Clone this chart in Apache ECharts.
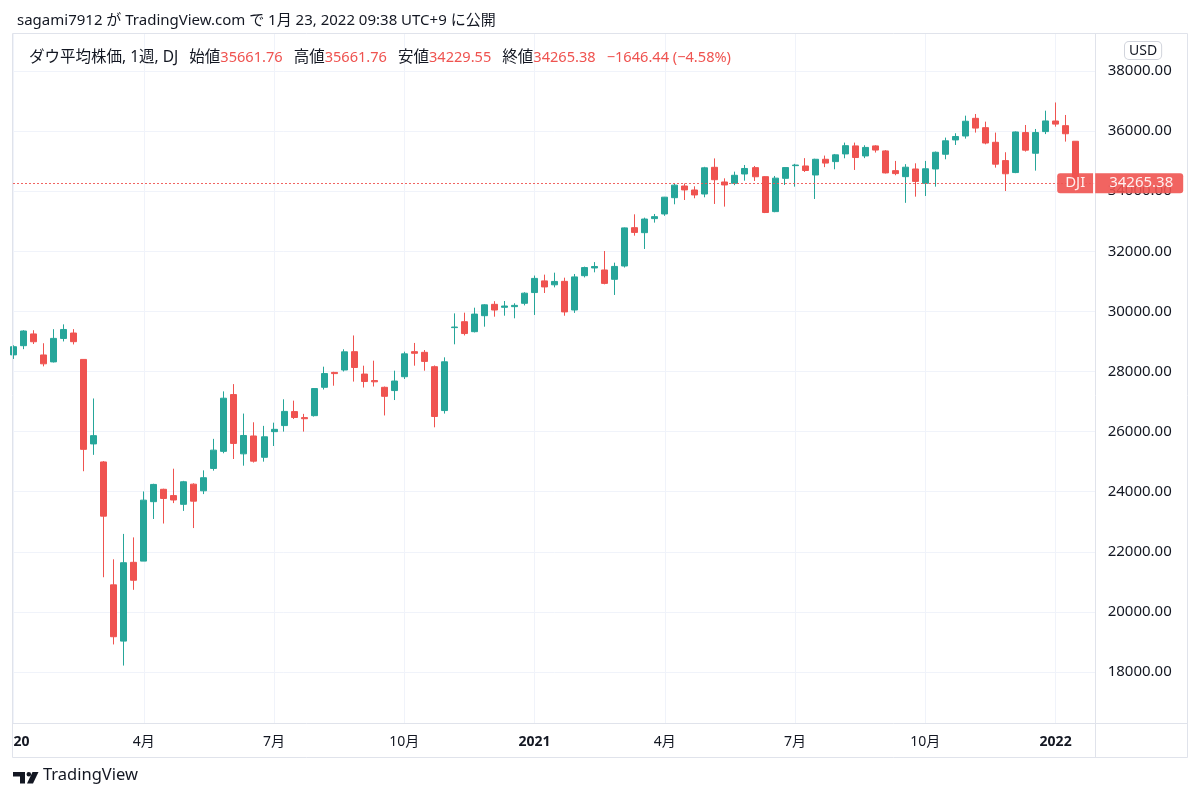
<!DOCTYPE html>
<html><head><meta charset="utf-8">
<script src="https://cdn.jsdelivr.net/npm/echarts@6/dist/echarts.min.js"></script>
<style>html,body{margin:0;padding:0;background:#fff}#c{width:1200px;height:800px}</style>
</head><body><div id="c"></div>
<script>
// Weekly bars, index 0 = week of 2020-01-06
const weekStarts = ['2020-01-06','2020-01-13','2020-01-21','2020-01-27','2020-02-03','2020-02-10','2020-02-18','2020-02-24','2020-03-02','2020-03-09','2020-03-16','2020-03-23','2020-03-30','2020-04-06','2020-04-13','2020-04-20','2020-04-27','2020-05-04','2020-05-11','2020-05-18','2020-05-26','2020-06-01','2020-06-08','2020-06-15','2020-06-22','2020-06-29','2020-07-06','2020-07-13','2020-07-20','2020-07-27','2020-08-03','2020-08-10','2020-08-17','2020-08-24','2020-08-31','2020-09-08','2020-09-14','2020-09-21','2020-09-28','2020-10-05','2020-10-12','2020-10-19','2020-10-26','2020-11-02','2020-11-09','2020-11-16','2020-11-23','2020-11-30','2020-12-07','2020-12-14','2020-12-21','2020-12-28','2021-01-04','2021-01-11','2021-01-19','2021-01-25','2021-02-01','2021-02-08','2021-02-16','2021-02-22','2021-03-01','2021-03-08','2021-03-15','2021-03-22','2021-03-29','2021-04-05','2021-04-12','2021-04-19','2021-04-26','2021-05-03','2021-05-10','2021-05-17','2021-05-24','2021-06-01','2021-06-07','2021-06-14','2021-06-21','2021-06-28','2021-07-06','2021-07-12','2021-07-19','2021-07-26','2021-08-02','2021-08-09','2021-08-16','2021-08-23','2021-08-30','2021-09-07','2021-09-13','2021-09-20','2021-09-27','2021-10-04','2021-10-11','2021-10-18','2021-10-25','2021-11-01','2021-11-08','2021-11-15','2021-11-22','2021-11-29','2021-12-06','2021-12-13','2021-12-20','2021-12-27','2022-01-03','2022-01-10','2022-01-18'];
const opens  = [28553,28859,29250,28550,28320,29100,29280,28402,25590,24990,20900,19028,21650,21690,23668,24080,23870,23580,24250,24030,24773,25342,27232,25260,25854,25144,25998,26200,26666,26465,26530,27474,27970,28050,28660,27915,27698,27474,27365,27826,28660,28638,28160,26700,29460,29657,29325,29857,30235,30136,30158,30269,30627,31015,30885,31000,30047,31188,31445,31378,31067,31510,32786,32620,33087,33242,33784,34173,34040,33906,34795,34306,34262,34573,34784,34484,33320,34428,34850,34839,34539,35062,34984,35240,35507,35173,35507,35340,34684,34484,34739,34262,34739,35229,35706,35837,36425,36114,35627,35018,34620,35950,35262,35983,36336,36181,35661.76];
const highs  = [28872,29374,29373,28940,29408,29568,29410,28402,27102,25020,21750,22595,22480,24008,24264,24100,24765,24360,24280,24710,25758,27338,27580,26600,26310,26190,26297,27075,27030,26590,27450,28160,27990,28740,29199,28193,28360,27500,28027,28660,28950,28715,28200,28471,29934,29957,30123,30240,30340,30346,30270,30637,31193,31223,31289,31122,31245,31490,31640,32010,31622,32793,33230,33120,33242,33810,34256,34256,34162,34811,35091,34428,34650,34872,34839,34500,34506,34800,34910,35100,35080,35185,35239,35617,35617,35529,35530,35370,35007,34900,34928,35007,35320,35783,35928,36513,36569,36314,35950,35296,35990,36203,36070,36679,36952,36536,35661.76];
const lows   = [28418,28743,28914,28170,28300,29000,28900,24681,25226,21154,18917,18214,20735,21690,23092,22941,23620,23361,22790,23920,24700,25279,25088,24866,24970,25000,25520,26000,26420,26000,26500,27400,27527,28000,27664,27466,27500,26537,27050,27750,28193,28027,26143,26600,28905,29200,29300,29491,29824,29857,29770,30200,29881,30612,30800,29856,29950,31130,31300,30900,30547,31460,32520,32077,32954,33180,33564,33707,33764,33797,33575,33486,34200,34350,34340,33271,33300,34207,34151,34640,33741,34800,34729,35095,34707,35100,35285,34590,34530,33613,33818,33840,34151,35062,35538,35750,35950,35560,34784,34006,34600,35318,34684,35900,36147,35650,34229.55];
const closes = [28824,29348,28990,28256,29102,29398,28992,25409,25865,23186,19174,21637,21053,23719,24242,23775,23724,24331,23685,24465,25383,27111,25606,25871,25016,25827,26075,26672,26470,26428,27433,27931,27930,28654,28133,27666,27657,27174,27683,28587,28606,28336,26502,28323,29480,29263,29910,30218,30046,30179,30200,30606,31098,30814,30997,29983,31148,31458,31494,30932,31496,32779,32628,33073,33153,33801,34201,34043,33875,34778,34382,34208,34529,34756,34480,33290,34434,34786,34870,34688,35062,34935,35209,35515,35120,35456,35369,34608,34585,34798,34326,34746,35295,35677,35820,36328,36100,35602,34899,34580,35971,35365,35951,36338,36232,35911.82,34265.38];

// Axis ticks
const timeTickWeeks  = [0, 13, 26, 39, 52, 65, 78, 91, 104];
const timeTickLabels = ['2020','4月','7月','10月','2021','4月','7月','10月','2022'];
const priceTicks = [18000,20000,22000,24000,26000,28000,30000,32000,34000,36000,38000];

const UP = '#26a69a', DOWN = '#ef5350', TXT = '#131722', FRAME = '#e0e3eb', GRID = '#f0f3fa';
const FONT = '"Noto Sans", "Noto Sans CJK JP", sans-serif';

const candles = weekStarts.map((d, i) => [i, opens[i], closes[i], lows[i], highs[i]]);
const n = weekStarts.length - 1;
const lastO = opens[n], lastH = highs[n], lastL = lows[n], lastC = closes[n];
const chg = lastC - closes[n - 1];
const chgPct = chg / closes[n - 1] * 100;
const fmtSigned = v => (v < 0 ? '\u2212' : '+') + Math.abs(v).toFixed(2);

const chart = echarts.init(document.getElementById('c'), null, {renderer: 'canvas'});
chart.setOption({
  backgroundColor: '#fff',
  animation: false,
  title: [{
    left: 12, top: 8,
    text: 'sagami7912 が TradingView.com で 1月 23, 2022 09:38 UTC+9 に公開',
    textStyle: {fontFamily: FONT, fontSize: 15, fontWeight: 'normal', color: TXT}
  }, {
    left: 24, top: 43,
    text: '{k|ダウ平均株価, 1週, DJ}{s|}{k|始値}{v|' + lastO.toFixed(2) + '}{s|}{k|高値}{v|' + lastH.toFixed(2) +
          '}{s|}{k|安値}{v|' + lastL.toFixed(2) + '}{s|}{k|終値}{v|' + lastC.toFixed(2) + '}{s|}{v|' +
          fmtSigned(chg) + ' (' + fmtSigned(chgPct) + '%)}',
    textStyle: {fontFamily: FONT, fontSize: 15, fontWeight: 'normal', color: TXT,
      rich: {
        k: {fontFamily: FONT, fontSize: 15.5, color: TXT, height: 20},
        v: {fontFamily: FONT, fontSize: 14.6, color: DOWN, height: 20},
        s: {width: 11, height: 20}
      }}
  }],
  grid: {left: 13, right: 104.3, top: 33, bottom: 77, containLabel: false, outerBoundsMode: 'none'},
  xAxis: {
    type: 'value',
    min: -0.05, max: 108.0,
    axisLine: {show: false},
    axisTick: {show: false, customValues: timeTickWeeks},
    splitLine: {show: true, lineStyle: {color: GRID, width: 1}},
    axisLabel: {
      customValues: timeTickWeeks,
      margin: 12,
      fontFamily: FONT, fontSize: 14, color: TXT,
      formatter: v => {
        const k = timeTickWeeks.indexOf(Math.round(v));
        const s = k >= 0 ? timeTickLabels[k] : '';
        return /^\d{4}$/.test(s) ? '{y|' + s + '}' : '{m|' + s + '}';
      },
      rich: {
        y: {fontFamily: FONT, fontSize: 14, fontWeight: 'bold', color: TXT},
        m: {fontFamily: FONT, fontSize: 14, color: TXT}
      }
    }
  },
  yAxis: {
    type: 'value',
    position: 'right',
    min: 16303, max: 39264,
    scale: true,
    axisLine: {show: false},
    axisTick: {show: false, customValues: priceTicks},
    splitLine: {show: true, lineStyle: {color: GRID, width: 1}},
    axisLabel: {
      customValues: priceTicks,
      margin: 12,
      fontFamily: FONT, fontSize: 15, color: TXT,
      formatter: v => v.toFixed(2)
    }
  },
  series: [{
    type: 'candlestick',
    data: candles,
    barWidth: 6.5,
    clip: true,
    itemStyle: {color: UP, color0: DOWN, borderColor: UP, borderColor0: DOWN, borderWidth: 1},
    markLine: {
      silent: true,
      symbol: ['none', 'none'],
      animation: false,
      lineStyle: {color: DOWN, type: [2, 2], width: 1, opacity: 0.9},
      data: [{yAxis: lastC}],
      label: {
        show: true,
        position: 'end',
        distance: -38.5,
        formatter: () => '{a|DJI}{g|}{b|' + lastC.toFixed(2) + '}',
        rich: {
          a: {backgroundColor: DOWN, color: '#fff', fontFamily: FONT, fontSize: 15, width: 36, height: 20, lineHeight: 20, align: 'center', borderRadius: [3, 0, 0, 3]},
          g: {backgroundColor: '#fff', width: 2, height: 20},
          b: {backgroundColor: DOWN, color: '#fff', fontFamily: FONT, fontSize: 15, width: 84, height: 20, lineHeight: 20, align: 'center', padding: [0, 0, 0, 4], borderRadius: [0, 3, 3, 0]}
        }
      }
    }
  }],
  graphic: [
    // mask left of frame in time axis row
    {type: 'rect', z: 100, shape: {x: 0, y: 723, width: 12.5, height: 34}, style: {fill: '#fff'}, silent: true},
    // frame
    {type: 'line', z: 101, shape: {x1: 12.5, y1: 33.5, x2: 1187.5, y2: 33.5}, style: {stroke: FRAME, lineWidth: 1}, silent: true},
    {type: 'line', z: 101, shape: {x1: 12.5, y1: 757.5, x2: 1187.5, y2: 757.5}, style: {stroke: FRAME, lineWidth: 1}, silent: true},
    {type: 'line', z: 101, shape: {x1: 12.5, y1: 723.5, x2: 1187.5, y2: 723.5}, style: {stroke: FRAME, lineWidth: 1}, silent: true},
    {type: 'line', z: 101, shape: {x1: 12.5, y1: 33.5, x2: 12.5, y2: 757.5}, style: {stroke: FRAME, lineWidth: 1}, silent: true},
    {type: 'line', z: 101, shape: {x1: 1187.5, y1: 33.5, x2: 1187.5, y2: 757.5}, style: {stroke: FRAME, lineWidth: 1}, silent: true},
    {type: 'line', z: 1, shape: {x1: 1095.5, y1: 33.5, x2: 1095.5, y2: 757.5}, style: {stroke: FRAME, lineWidth: 1}, silent: true},
    // USD badge
    {type: 'text', z: 102, left: 1124, top: 41,
      style: {text: 'USD', fontFamily: FONT, fontSize: 14, fill: TXT, backgroundColor: '#fff',
        borderColor: '#d1d4dc', borderWidth: 1, borderRadius: 4, padding: [2, 4, 1, 4]}},
    // TradingView logo
    {type: 'rect', z: 102, shape: {x: 13, y: 772, width: 12, height: 4.5}, style: {fill: TXT}},
    {type: 'rect', z: 102, shape: {x: 20, y: 772, width: 5, height: 11.5}, style: {fill: TXT}},
    {type: 'circle', z: 102, shape: {cx: 28.8, cy: 774.2, r: 2.3}, style: {fill: TXT}},
    {type: 'polygon', z: 102, shape: {points: [[32.5, 772], [38.5, 772], [33, 783.5], [27, 783.5]]}, style: {fill: TXT}},
    {type: 'text', z: 102, left: 43, top: 767,
      style: {text: 'TradingView', fontFamily: FONT, fontSize: 16.5, fill: TXT}}
  ]
});
</script>
</body></html>
